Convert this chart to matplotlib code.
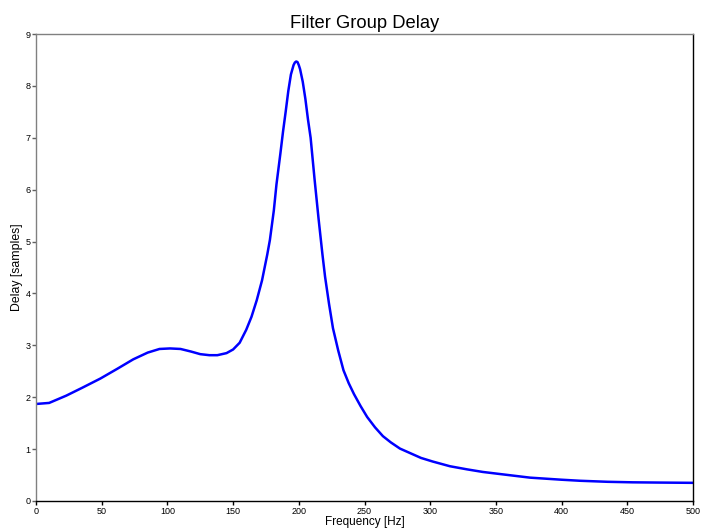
import matplotlib
matplotlib.use('Agg')
import matplotlib.pyplot as plt

# Group delay curve
freq_hz = [0, 10, 23, 35, 49, 62, 74, 85, 94, 102, 110, 118, 125, 132, 138, 145,
           150, 155, 160, 164, 168, 172, 176, 178, 181, 183, 186, 188, 190, 192,
           194, 196, 197, 198, 199, 200, 201, 203, 205, 207, 209, 212, 215, 218,
           220, 223, 226, 230, 234, 238, 242, 247, 252, 258, 264, 270, 277, 285,
           293, 302, 315, 328, 340, 353, 376, 400, 414, 435, 454, 475, 500]
delay_samples = [1.87, 1.89, 2.03, 2.18, 2.36, 2.55, 2.73, 2.86, 2.93, 2.94, 2.93,
                 2.88, 2.83, 2.81, 2.81, 2.85, 2.92, 3.05, 3.30, 3.55, 3.87, 4.25,
                 4.75, 5.03, 5.60, 6.10, 6.70, 7.12, 7.50, 7.90, 8.22, 8.40, 8.45,
                 8.47, 8.46, 8.40, 8.32, 8.08, 7.75, 7.35, 7.00, 6.20, 5.45, 4.75,
                 4.32, 3.80, 3.33, 2.90, 2.52, 2.27, 2.06, 1.83, 1.62, 1.42, 1.25,
                 1.13, 1.01, 0.92, 0.83, 0.76, 0.67, 0.61, 0.56, 0.52, 0.45, 0.41,
                 0.39, 0.37, 0.36, 0.355, 0.35]

x_ticks = [0, 50, 100, 150, 200, 250, 300, 350, 400, 450, 500]
y_ticks = [0, 1, 2, 3, 4, 5, 6, 7, 8, 9]

plt.rcParams['font.family'] = ['Liberation Sans', 'DejaVu Sans']

fig = plt.figure(figsize=(7.01, 5.29), dpi=100)
ax = fig.add_axes([36 / 701, 28 / 529, 657 / 701, 467 / 529])

ax.plot(freq_hz, delay_samples, color='#0000ff', linewidth=1.8)

ax.set_xlim(0, 500)
ax.set_ylim(0, 9)
ax.set_xticks(x_ticks)
ax.set_yticks(y_ticks)

ax.spines['left'].set_color('#808080')
ax.spines['top'].set_color('#808080')
ax.spines['bottom'].set_color('black')
ax.spines['right'].set_color('black')
for s in ax.spines.values():
    s.set_linewidth(1.0)

ax.tick_params(axis='x', direction='out', length=3, width=1, colors='black',
               labelsize=6.5, pad=1.5)
ax.tick_params(axis='y', direction='out', length=3, width=1, colors='#606060',
               labelcolor='black', labelsize=6.5, pad=1)

ax.set_title('Filter Group Delay', fontsize=13.2, pad=4.5)
ax.set_xlabel('Frequency [Hz]', fontsize=8.5, labelpad=0)
ax.set_ylabel('Delay [samples]', fontsize=8.8, labelpad=1.5)

fig.savefig('out.png', dpi=100, facecolor='white')
